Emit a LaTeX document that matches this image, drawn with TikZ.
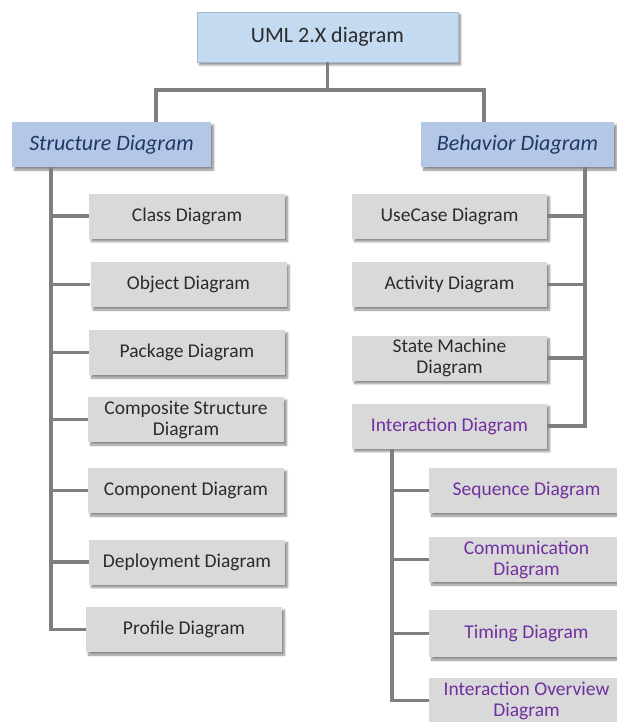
\documentclass[tikz,border=0pt]{standalone}
\usepackage{fontspec}
\setmainfont{Carlito}
\usetikzlibrary{shadows.blur}

\definecolor{linkgray}{HTML}{7F7F7F}
\definecolor{boxgray}{HTML}{D9D9D9}
\definecolor{headblue}{HTML}{B4C7E7}
\definecolor{rootblue}{HTML}{C3DAF0}
\definecolor{rootedge}{HTML}{9DB9D6}
\definecolor{navy}{HTML}{1F3864}
\definecolor{ink}{HTML}{2B2B2B}
\definecolor{violet}{HTML}{7030A0}

\tikzset{
  softshadow/.style={blur shadow={shadow xshift=2.5pt, shadow yshift=-3pt,
      shadow blur radius=2pt, shadow blur steps=6, shadow opacity=45}},
  rootbox/.style={draw=rootedge, line width=0.6pt, fill=rootblue, softshadow,
      minimum width=261pt, minimum height=50pt, inner sep=0pt,
      text=ink, font=\fontsize{22}{24}\selectfont},
  headbox/.style={fill=headblue, softshadow, minimum height=45pt, inner sep=0pt,
      text=navy, font=\fontsize{22}{24}\selectfont\itshape},
  leafbox/.style={fill=boxgray, softshadow, minimum width=196pt,
      minimum height=45pt, inner sep=0pt, align=center, text=ink,
      font=\fontsize{19.5}{21}\selectfont},
  subbox/.style={leafbox, text=violet},
  link/.style={draw=linkgray, line width=3.5pt}
}

\begin{document}
\begin{tikzpicture}[x=1pt, y=-1pt]
  \useasboundingbox (0,0) rectangle (617,722);
  \clip (0,0) rectangle (617,722);

  % column positions of the connector trunks
  \coordinate (sdrop) at (156,90);
  \coordinate (bdrop) at (484,90);
  \coordinate (lx) at (51,0);
  \coordinate (rx) at (585,0);
  \coordinate (ix) at (392,0);

  % root and the two main branches
  \node[rootbox] (root) at (327.5,37) {UML 2.X diagram};
  \node[headbox, minimum width=199pt] (struct) at (111.5,144.5) {Structure Diagram};
  \node[headbox, minimum width=193pt] (behav) at (517.5,144.5) {Behavior Diagram};

  % structure diagrams
  \node[leafbox] (class)     at (187,216)   {Class Diagram};
  \node[leafbox] (object)    at (188.5,284.5) {Object Diagram};
  \node[leafbox] (package)   at (187,352.5) {Package Diagram};
  \node[leafbox] (composite) at (186,419.5) {Composite Structure\\Diagram};
  \node[leafbox] (component) at (186,490.5) {Component Diagram};
  \node[leafbox] (deploy)    at (187,562)   {Deployment Diagram};
  \node[leafbox] (profile)   at (184,629.5) {Profile Diagram};

  % behavior diagrams
  \node[leafbox, minimum width=195pt] (usecase)  at (449.5,216)   {UseCase Diagram};
  \node[leafbox, minimum width=195pt] (activity) at (449.5,284.5) {Activity Diagram};
  \node[leafbox, minimum width=195pt] (state)    at (449.5,358)   {State Machine\\Diagram};
  \node[subbox,  minimum width=195pt] (inter)    at (449.5,426)   {Interaction Diagram};

  % interaction diagrams
  \node[subbox, minimum width=195pt] (sequence) at (526.5,490.5) {Sequence Diagram};
  \node[subbox, minimum width=195pt] (comm)     at (526.5,559.5) {Communication\\Diagram};
  \node[subbox, minimum width=195pt, minimum height=47pt] (timing) at (526.5,633.5) {Timing Diagram};
  \node[subbox, minimum width=195pt] (overview) at (526.5,700.5) {Interaction Overview\\Diagram};

  % root to branches
  \draw[link] (root.south) -- (root.south |- sdrop);
  \draw[link] (struct.north -| sdrop) |- (bdrop) -- (behav.north -| bdrop);

  % structure trunk
  \draw[link] (struct.south -| lx) |- (profile.west);
  \foreach \n in {class,object,package,composite,component,deploy}
    \draw[link] (\n.west -| lx) -- (\n.west);

  % behavior trunk
  \draw[link] (behav.south -| rx) |- (inter.east);
  \foreach \n in {usecase,activity,state}
    \draw[link] (\n.east) -- (\n.east -| rx);

  % interaction trunk
  \draw[link] (inter.south -| ix) |- (overview.west);
  \foreach \n in {sequence,comm,timing}
    \draw[link] (\n.west -| ix) -- (\n.west);
\end{tikzpicture}
\end{document}
